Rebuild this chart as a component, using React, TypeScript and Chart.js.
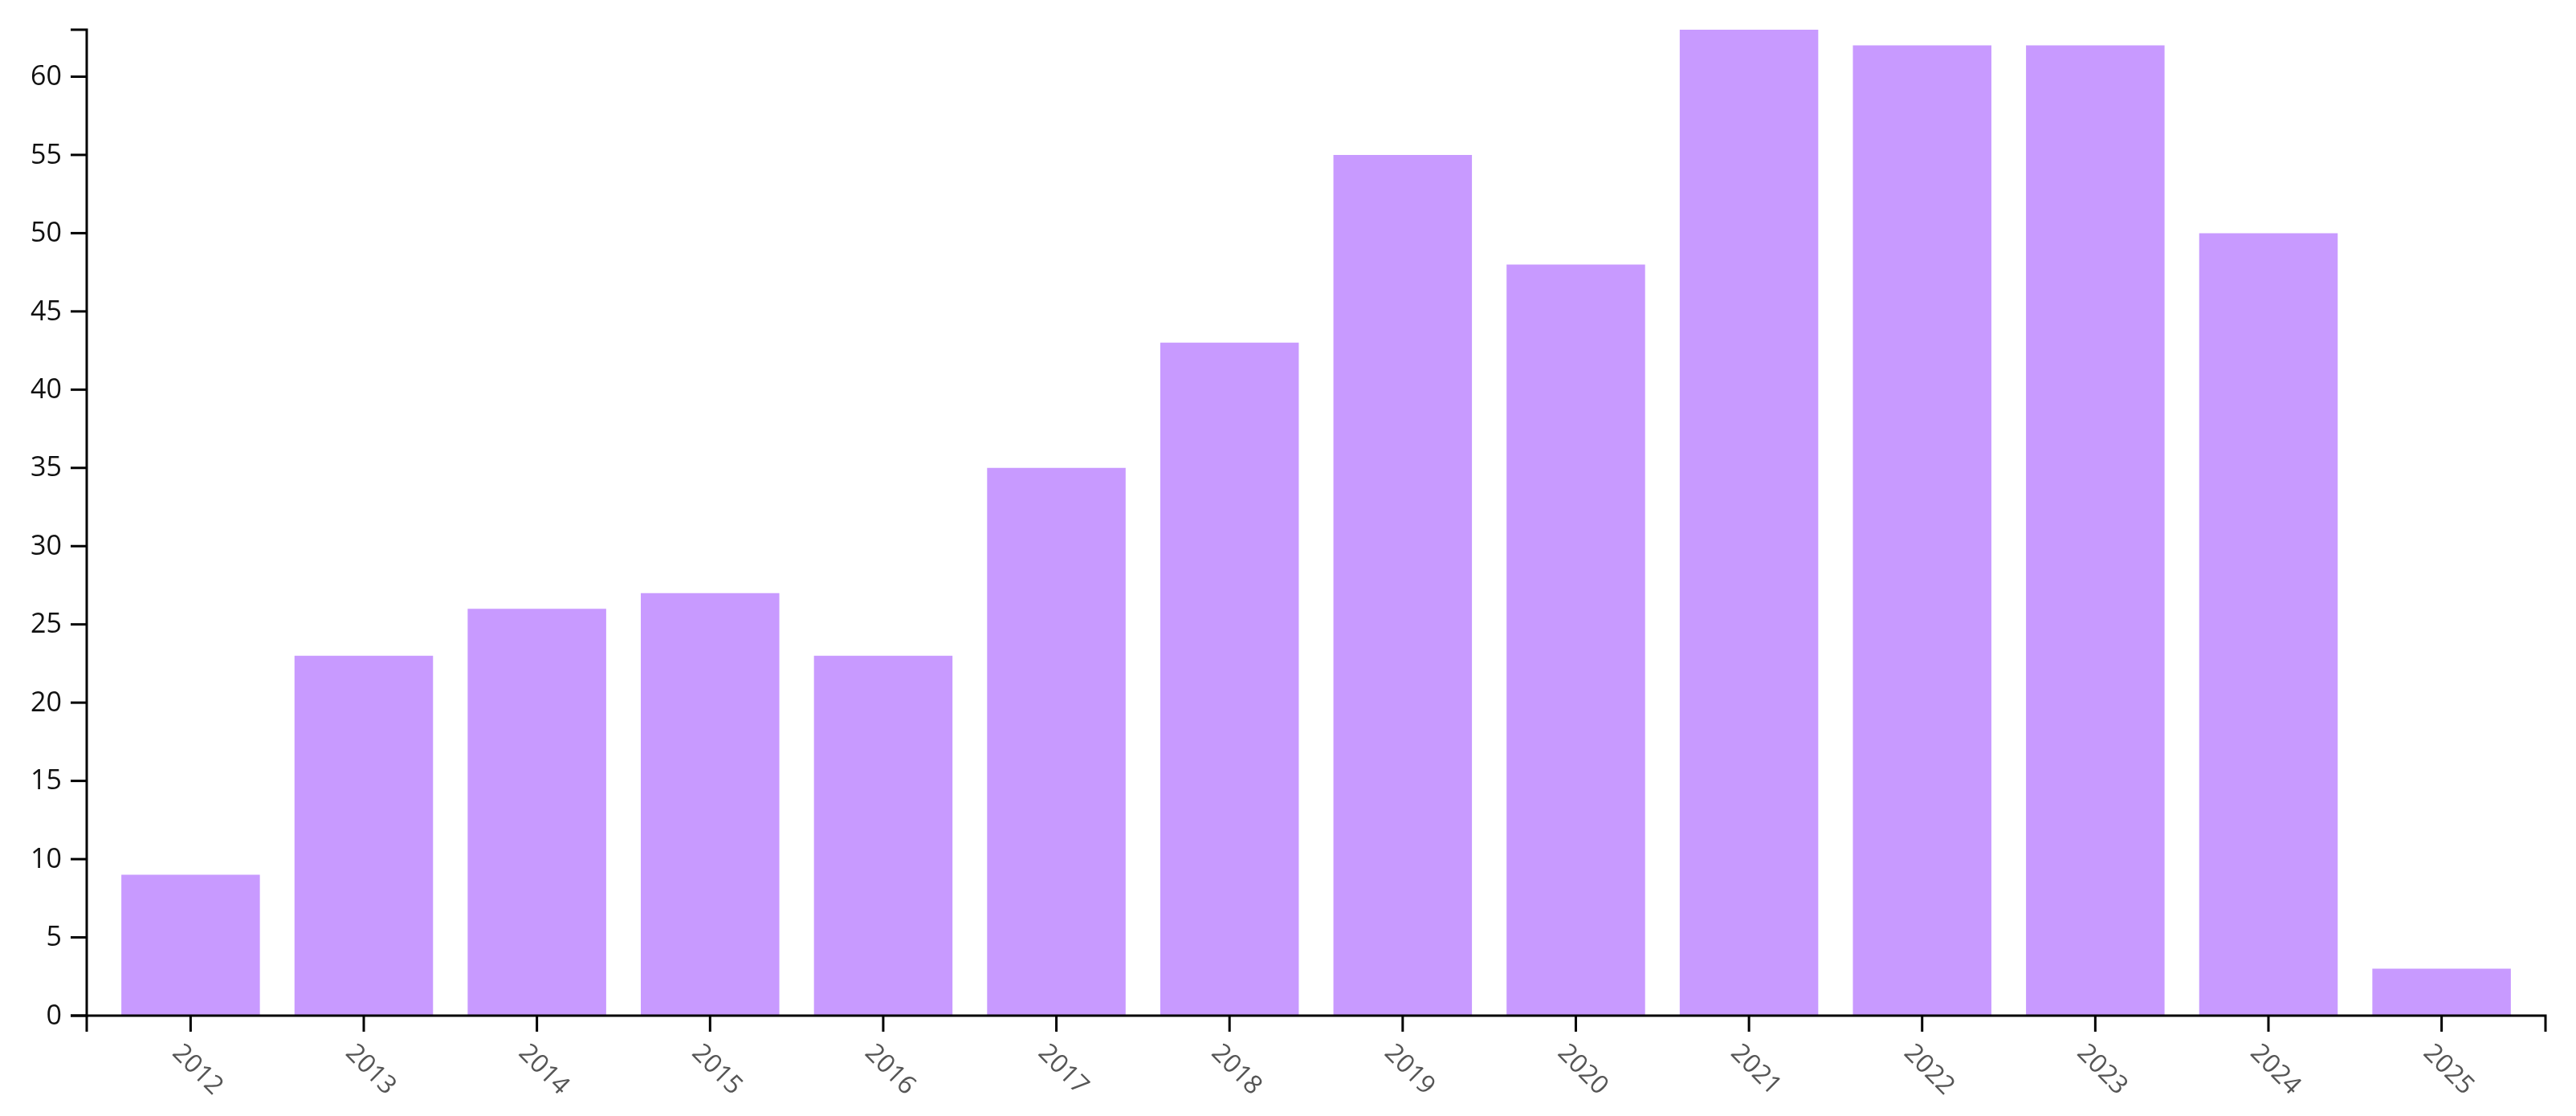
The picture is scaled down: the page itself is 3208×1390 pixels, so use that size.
import React, { useEffect, useRef } from "react";
import { Chart, registerables } from "chart.js";

Chart.register(...registerables);

const years: string[] = ["2012", "2013", "2014", "2015", "2016", "2017", "2018", "2019", "2020", "2021", "2022", "2023", "2024", "2025"];
const counts: number[] = [9, 23, 26, 27, 23, 35, 43, 55, 48, 63, 62, 62, 50, 3];
const yTicks: number[] = [0, 5, 10, 15, 20, 25, 30, 35, 40, 45, 50, 55, 60];

const FONT = '"Open Sans", "Noto Sans", sans-serif';

const axesPlugin = {
  id: "d3axes",
  afterDraw(chart: any) {
    const ctx = chart.ctx as CanvasRenderingContext2D;
    const a = chart.chartArea;
    const xs = chart.scales.x;
    const ys = chart.scales.y;
    const tick = 20;
    ctx.save();
    ctx.strokeStyle = "#000";
    ctx.lineWidth = 3;
    // y domain
    ctx.beginPath();
    ctx.moveTo(a.left - tick, a.top);
    ctx.lineTo(a.left, a.top);
    ctx.lineTo(a.left, a.bottom);
    ctx.lineTo(a.left - tick, a.bottom);
    ctx.stroke();
    // y ticks
    ctx.font = `34px ${FONT}`;
    ctx.fillStyle = "#111";
    ctx.textAlign = "right";
    ctx.textBaseline = "middle";
    yTicks.forEach((v) => {
      const py = ys.getPixelForValue(v);
      ctx.beginPath();
      ctx.moveTo(a.left - tick, py);
      ctx.lineTo(a.left, py);
      ctx.stroke();
      ctx.fillText(String(v), a.left - tick - 11, py + 1);
    });
    // x domain
    ctx.beginPath();
    ctx.moveTo(a.left, a.bottom + tick);
    ctx.lineTo(a.left, a.bottom);
    ctx.lineTo(a.right, a.bottom);
    ctx.lineTo(a.right, a.bottom + tick);
    ctx.stroke();
    // x ticks
    ctx.font = `32px ${FONT}`;
    ctx.fillStyle = "#555";
    ctx.textAlign = "left";
    ctx.textBaseline = "alphabetic";
    years.forEach((lab, i) => {
      const px = xs.getPixelForValue(i);
      ctx.beginPath();
      ctx.moveTo(px, a.bottom);
      ctx.lineTo(px, a.bottom + tick);
      ctx.stroke();
      ctx.save();
      ctx.translate(px, a.bottom);
      ctx.rotate(Math.PI / 4);
      ctx.fillText(lab, 17, 51);
      ctx.restore();
    });
    ctx.restore();
  },
};

export default function App() {
  const ref = useRef<HTMLCanvasElement | null>(null);
  useEffect(() => {
    if (!ref.current) return;
    const chart = new Chart(ref.current, {
      type: "bar",
      data: {
        datasets: [
          {
            data: counts.map((v, i) => ({ x: i, y: v })),
            backgroundColor: "#c89aff",
            borderWidth: 0,
            categoryPercentage: 1,
            barPercentage: 0.8,
          },
        ],
      },
      options: {
        animation: false,
        responsive: false,
        devicePixelRatio: 1,
        layout: { padding: { left: 108, top: 37, right: 38, bottom: 125 } },
        plugins: { legend: { display: false }, tooltip: { enabled: false } },
        scales: {
          x: {
            type: "linear",
            min: -0.6,
            max: 13.6,
            offset: false,
            display: false,
            afterBuildTicks: (s: any) => {
              s.ticks = years.map((_, i) => ({ value: i }));
            },
          },
          y: { type: "linear", min: 0, max: 63, display: false },
        },
      },
      plugins: [axesPlugin],
    });
    return () => chart.destroy();
  }, []);
  return (
    <div style={{ position: "absolute", left: 0, top: 0, width: 3208, height: 1390, background: "#fff" }}>
      <canvas ref={ref} width={3208} height={1390} style={{ display: "block" }} />
    </div>
  );
}
